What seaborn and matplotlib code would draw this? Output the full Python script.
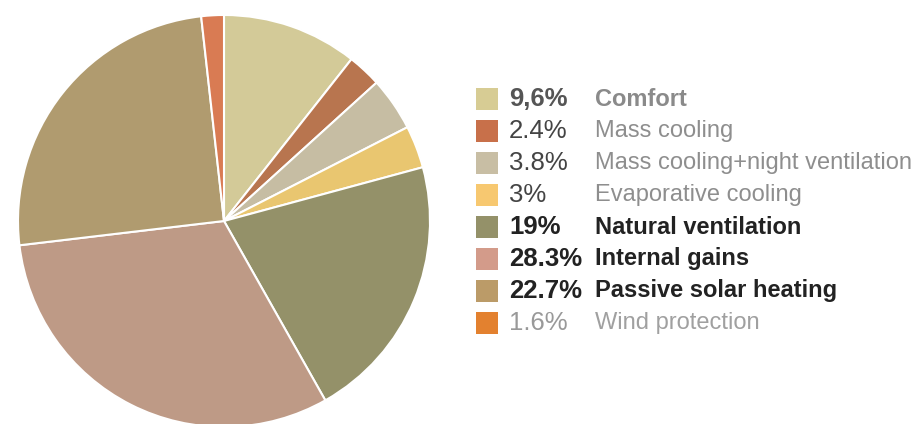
import matplotlib
matplotlib.use("Agg")
import matplotlib.pyplot as plt
import seaborn as sns
from matplotlib.patches import Rectangle

categories = [
    "Comfort",
    "Mass cooling",
    "Mass cooling+night ventilation",
    "Evaporative cooling",
    "Natural ventilation",
    "Internal gains",
    "Passive solar heating",
    "Wind protection",
]
shares = [9.6, 2.4, 3.8, 3.0, 19.0, 28.3, 22.7, 1.6]
share_labels = ["9,6%", "2.4%", "3.8%", "3%", "19%", "28.3%", "22.7%", "1.6%"]

wedge_colors = ["#D3CA98", "#B8754F", "#C6BDA3", "#E9C670",
                "#949169", "#BE9A86", "#B09B6F", "#D97B53"]
swatch_colors = ["#D7CC94", "#C8704A", "#C8BEA4", "#F7C870",
                 "#949169", "#D39B8A", "#BB9B68", "#E3812F"]

# text styling per legend row: (weight of %, color of %, weight of label, color of label)
row_styles = [
    ("bold", "#555555", "bold", "#8a8a8a"),
    ("normal", "#444444", "normal", "#8e8e8e"),
    ("normal", "#444444", "normal", "#8e8e8e"),
    ("normal", "#444444", "normal", "#8e8e8e"),
    ("bold", "#222222", "bold", "#222222"),
    ("bold", "#222222", "bold", "#222222"),
    ("bold", "#222222", "bold", "#222222"),
    ("normal", "#999999", "normal", "#a0a0a0"),
]

sns.set_theme(style="white")
plt.rcParams["font.family"] = ["Liberation Sans", "DejaVu Sans"]

fig = plt.figure(figsize=(9.18, 4.24), dpi=100)
W, H = 918, 424
cx, cy, r = 224, 221, 206
ax = fig.add_axes([(cx - r) / W, (H - cy - r) / H, 2 * r / W, 2 * r / H])
ax.pie(
    shares,
    colors=wedge_colors,
    startangle=90,
    counterclock=False,
    wedgeprops={"edgecolor": "white", "linewidth": 1.5},
)
ax.set_aspect("equal")
ax.set_xlim(-1, 1)
ax.set_ylim(-1, 1)
ax.axis("off")

# legend drawn by hand
y0, dy = 99, 32
for i, (pct, name) in enumerate(zip(share_labels, categories)):
    y = y0 + i * dy
    fig.patches.append(Rectangle(((476) / W, (H - y - 11) / H), 22 / W, 22 / H,
                                 transform=fig.transFigure, facecolor=swatch_colors[i],
                                 edgecolor="none"))
    pw, pc, lw, lc = row_styles[i]
    fig.text(509 / W, (H - y) / H, pct, fontsize=18.5, fontweight=pw, color=pc,
             va="center", ha="left")
    fig.text(595 / W, (H - y) / H, name, fontsize=17, fontweight=lw, color=lc,
             va="center", ha="left")

plt.savefig("out.png", dpi=100)
